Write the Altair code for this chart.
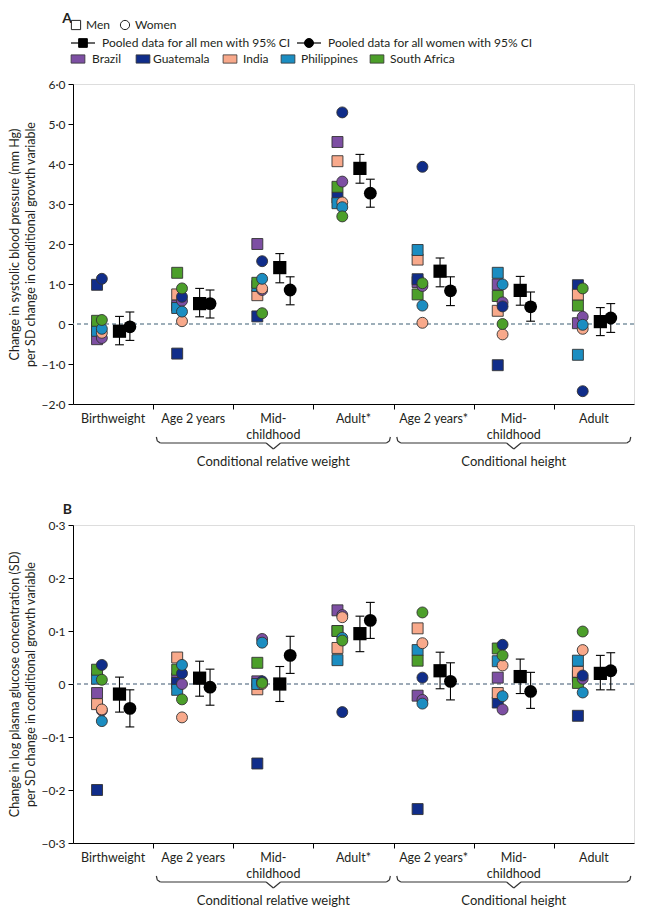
import altair as alt
import pandas as pd

# ---------------- data ----------------
categories = ["Birthweight", "Age 2 years", "Mid-|childhood", "Adult*",
              "Age 2 years*", "Mid-|childhood", "Adult"]
group_names = ["Conditional relative weight", "Conditional height"]
group_first = [1, 4]
group_last = [3, 6]

countries = ["Brazil", "Guatemala", "India", "Philippines", "South Africa"]
country_colors = ["#7D4FA3", "#102D8A", "#F8A98B", "#1B8DC1", "#4C9F2A"]

# Panel A: systolic blood pressure (mm Hg)
sbp_men = {
    "Brazil":       [-0.38, 0.46, 2.00, 4.55, 1.05, 0.99, 0.02],
    "Guatemala":    [0.98, -0.74, 0.19, 3.16, 1.12, -1.03, 0.97],
    "India":        [-0.08, 0.74, 0.72, 4.07, 1.61, 0.33, 0.73],
    "Philippines":  [-0.17, 0.40, 0.95, 3.02, 1.85, 1.28, -0.77],
    "South Africa": [0.08, 1.28, 1.03, 3.43, 0.74, 0.70, 0.46],
}
sbp_women = {
    "Brazil":       [-0.35, 0.58, 0.85, 3.56, 0.95, 0.54, 0.18],
    "Guatemala":    [1.13, 0.68, 1.57, 5.29, 3.93, 0.44, -1.68],
    "India":        [-0.22, 0.07, 0.89, 3.04, 0.03, -0.26, -0.12],
    "Philippines":  [-0.12, 0.31, 1.13, 2.92, 0.46, 0.99, -0.02],
    "South Africa": [0.10, 0.89, 0.27, 2.69, 1.02, 0.00, 0.89],
}
sbp_pm = [-0.18, 0.51, 1.41, 3.89, 1.32, 0.84, 0.06]
sbp_pm_lo = [-0.52, 0.18, 1.03, 3.52, 0.93, 0.47, -0.29]
sbp_pm_hi = [0.19, 0.89, 1.76, 4.24, 1.65, 1.19, 0.41]
sbp_pw = [-0.07, 0.51, 0.85, 3.27, 0.83, 0.43, 0.15]
sbp_pw_lo = [-0.41, 0.15, 0.48, 2.92, 0.46, 0.07, -0.21]
sbp_pw_hi = [0.30, 0.85, 1.18, 3.62, 1.18, 0.80, 0.51]
sbp_ticks = [-2, -1, 0, 1, 2, 3, 4, 5, 6]

# Panel B: log plasma glucose (SD)
glu_men = {
    "Brazil":       [-0.017, 0.010, 0.005, 0.139, -0.022, 0.012, 0.015],
    "Guatemala":    [-0.200, 0.002, -0.150, 0.100, -0.236, -0.035, -0.060],
    "India":        [-0.038, 0.050, -0.010, 0.068, 0.105, -0.017, 0.023],
    "Philippines":  [0.010, -0.011, 0.000, 0.045, 0.064, 0.043, 0.044],
    "South Africa": [0.027, 0.027, 0.040, 0.100, 0.044, 0.067, 0.002],
}
glu_women = {
    "Brazil":       [-0.050, 0.000, 0.085, 0.130, -0.030, -0.048, 0.010],
    "Guatemala":    [0.036, 0.020, 0.005, -0.053, 0.012, 0.074, 0.016],
    "India":        [-0.048, -0.063, 0.000, 0.126, 0.077, 0.035, 0.064],
    "Philippines":  [-0.070, 0.036, 0.078, 0.087, -0.037, -0.023, -0.016],
    "South Africa": [0.008, -0.029, 0.002, 0.082, 0.135, 0.054, 0.099],
}
glu_pm = [-0.019, 0.011, 0.000, 0.095, 0.025, 0.014, 0.020]
glu_pm_lo = [-0.053, -0.023, -0.033, 0.061, -0.009, -0.018, -0.011]
glu_pm_hi = [0.013, 0.043, 0.033, 0.128, 0.060, 0.047, 0.054]
glu_pw = [-0.046, -0.006, 0.054, 0.120, 0.005, -0.014, 0.025]
glu_pw_lo = [-0.081, -0.040, 0.020, 0.086, -0.030, -0.046, -0.011]
glu_pw_hi = [-0.011, 0.028, 0.090, 0.154, 0.040, 0.022, 0.059]
glu_ticks = [-0.3, -0.2, -0.1, 0, 0.1, 0.2, 0.3]

# ---------------- layout / style ----------------
W = 561
FONT = "Lato"
TXT = "#231f20"
OFF_M, OFF_W, OFF_PM, OFF_PW = 0.30, 0.36, 0.58, 0.71
CAP = 0.055
NCAT = len(categories)

label_expr = "datum.value == 0 ? '0' : replace(format(datum.value, '.1f'), '.', '·')"


def xenc(field):
    return alt.X(field, type="quantitative",
                 scale=alt.Scale(domain=[0, NCAT], nice=False, zero=False),
                 axis=alt.Axis(values=list(range(1, NCAT)), labels=False, title=None,
                               tickSize=5, tickColor="black", domainColor="black",
                               tickWidth=1, domainWidth=1, grid=False))


def panel(men, women, pm, pm_lo, pm_hi, pw, pw_lo, pw_hi, ticks, ytitle,
          letter, H, zero_color, zero_width, with_legend):
    ydom = [ticks[0], ticks[-1]]
    yaxis = alt.Axis(title=ytitle, values=ticks, labelExpr=label_expr, tickSize=5,
                     tickColor="black", domainColor="black", labelFontSize=12,
                     labelColor=TXT, labelFont=FONT, titleFont=FONT,
                     titleFontSize=12.5, titleFontWeight="normal", titleColor=TXT,
                     labelPadding=3, titlePadding=3, grid=False, titleLineHeight=16)

    def yenc(field):
        return alt.Y(field, type="quantitative",
                     scale=alt.Scale(domain=ydom, nice=False, zero=False), axis=yaxis)

    color = alt.Color("country:N", scale=alt.Scale(domain=countries, range=country_colors),
                      legend=None)

    layers = []
    # zero reference line
    layers.append(alt.Chart(pd.DataFrame({"z": [0]})).mark_rule(
        color=zero_color, strokeDash=[4, 3], strokeWidth=zero_width).encode(y=yenc("z")))

    # country points
    for sex, d, off, shape, size in (("Men", men, OFF_M, "square", 120),
                                     ("Women", women, OFF_W, "circle", 120)):
        rows = []
        for c in countries:
            for i, v in enumerate(d[c]):
                rows.append({"cat": i, "country": c, "value": v})
        df = pd.DataFrame(rows)
        layers.append(alt.Chart(df).transform_calculate(xpos=f"datum.cat + {off}")
                      .mark_point(filled=True, opacity=1, shape=shape, size=size,
                                  stroke="#333333", strokeWidth=0.9)
                      .encode(x=xenc("xpos"), y=yenc("value"), color=color))

    # pooled estimates with 95% CI
    for est, lo, hi, off, shape, size in ((pm, pm_lo, pm_hi, OFF_PM, "square", 175),
                                          (pw, pw_lo, pw_hi, OFF_PW, "circle", 165)):
        df = pd.DataFrame({"cat": list(range(NCAT)), "est": est, "lo": lo, "hi": hi})
        base = alt.Chart(df).transform_calculate(
            xpos=f"datum.cat + {off}", xl=f"datum.cat + {off - CAP}",
            xr=f"datum.cat + {off + CAP}")
        layers.append(base.mark_rule(color="black", strokeWidth=1.1)
                      .encode(x=xenc("xpos"), y=yenc("lo"), y2="hi"))
        layers.append(base.transform_fold(["lo", "hi"], as_=["k", "ycap"])
                      .mark_rule(color="black", strokeWidth=1.1)
                      .encode(x=xenc("xl"), x2="xr", y=yenc("ycap")))
        layers.append(base.mark_point(filled=True, opacity=1, shape=shape, size=size,
                                      color="black")
                      .encode(x=xenc("xpos"), y=yenc("est")))

    # category labels under the axis
    cat_df = pd.DataFrame({"cat": list(range(NCAT)), "label": categories})
    layers.append(alt.Chart(cat_df).transform_calculate(xpos="datum.cat + 0.5")
                  .mark_text(lineBreak="|", baseline="top", align="center", font=FONT,
                             fontSize=12.5, lineHeight=16, color=TXT)
                  .encode(x=xenc("xpos"), y=alt.value(H + 9), text="label:N"))

    # braces for groups
    gdf = pd.DataFrame({"name": group_names, "first": group_first, "last": group_last})
    gbase = alt.Chart(gdf).transform_calculate(
        s="datum.first + 0.04", e="datum.last + 0.96",
        c="(datum.first + datum.last + 1) / 2")
    yb = H + 39
    pieces = [
        ("datum.s", "datum.s + 0.012", yb - 6, yb - 2),
        ("datum.s + 0.012", "datum.s + 0.05", yb - 2, yb),
        ("datum.s + 0.05", "datum.c - 0.09", yb, yb),
        ("datum.c - 0.09", "datum.c", yb, yb + 6),
        ("datum.c", "datum.c + 0.09", yb + 6, yb),
        ("datum.c + 0.09", "datum.e - 0.05", yb, yb),
        ("datum.e - 0.05", "datum.e - 0.012", yb, yb - 2),
        ("datum.e - 0.012", "datum.e", yb - 2, yb - 6),
    ]
    for xa, xb, ya, yb2 in pieces:
        layers.append(gbase.transform_calculate(xa=xa, xb=xb)
                      .mark_rule(color="#333333", strokeWidth=1.2)
                      .encode(x=xenc("xa"), x2="xb", y=alt.value(ya), y2=alt.value(yb2)))
    layers.append(gbase.mark_text(font=FONT, fontSize=13, color=TXT, baseline="middle")
                  .encode(x=xenc("c"), y=alt.value(H + 58), text="name:N"))

    one = pd.DataFrame({"a": [0]})
    # panel letter
    lt_y = -72 if with_legend else -22
    layers.append(alt.Chart(one).mark_text(text=letter, font=FONT, fontSize=14,
                                           fontWeight="bold", align="right",
                                           baseline="top", color=TXT)
                  .encode(x=alt.value(-1), y=alt.value(lt_y)))

    if with_legend:
        def sym(x, y, shape, size, fill, stroke="#222222", sw=1.0):
            return alt.Chart(one).mark_point(shape=shape, size=size, fill=fill,
                                             filled=True, opacity=1, stroke=stroke,
                                             strokeWidth=sw).encode(
                x=alt.value(x), y=alt.value(y))

        def lab(x, y, t):
            return alt.Chart(one).mark_text(text=t, font=FONT, fontSize=12,
                                            align="left", baseline="middle",
                                            color=TXT).encode(
                x=alt.value(x), y=alt.value(y))

        def hline(x1, x2, y):
            return alt.Chart(one).mark_rule(color="black", strokeWidth=1.2).encode(
                x=alt.value(x1), x2=alt.value(x2), y=alt.value(y))

        r1, r2, r3 = -59, -41, -25
        layers += [sym(3, r1, "square", 85, "white"), lab(13, r1, "Men"),
                   sym(52, r1, "circle", 85, "white"), lab(62, r1, "Women")]
        layers += [hline(-2, 22, r2), sym(10, r2, "square", 75, "black", "black"),
                   lab(29, r2, "Pooled data for all men with 95% CI"),
                   hline(224, 248, r2), sym(236, r2, "circle", 80, "black", "black"),
                   lab(255, r2, "Pooled data for all women with 95% CI")]
        sw_x = [5, 70, 157, 215, 304]
        lab_x = [19, 80, 170, 228, 317]
        for c, col, sx, lx in zip(countries, country_colors, sw_x, lab_x):
            layers.append(sym(sx, r3, "M-1,-0.6H1V0.6H-1Z", 190, col, "#333333", 0.8))
            layers.append(lab(lx, r3, c))

    return alt.layer(*layers).properties(width=W, height=H)


panel_a = panel(sbp_men, sbp_women, sbp_pm, sbp_pm_lo, sbp_pm_hi, sbp_pw, sbp_pw_lo,
                sbp_pw_hi, sbp_ticks,
                ["Change in systolic blood pressure (mm Hg)",
                 "per SD change in conditional growth variable"],
                "A", 320, "#7d94a3", 1.6, True)
panel_b = panel(glu_men, glu_women, glu_pm, glu_pm_lo, glu_pm_hi, glu_pw, glu_pw_lo,
                glu_pw_hi, glu_ticks,
                ["Change in log plasma glucose concentration (SD)",
                 "per SD change in conditional growth variable"],
                "B", 318, "#3c5670", 1.1, False)

chart = alt.vconcat(panel_a, panel_b, spacing=32).properties(
    padding={"left": 0, "right": 0, "top": 3, "bottom": 0}
).configure_view(stroke=None).configure(font=FONT)

chart.save("out.html", embed_options={"renderer": "svg", "actions": False})
